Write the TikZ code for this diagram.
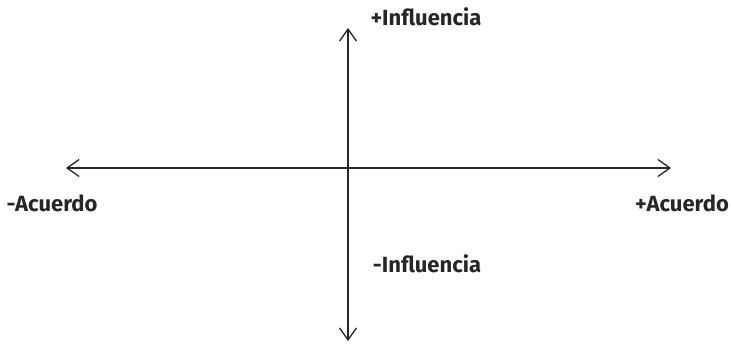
\documentclass[tikz,border=0pt]{standalone}
\usepackage{fontspec}
\setmainfont{Fira Sans}
\usetikzlibrary{arrows.meta}
\begin{document}
\begin{tikzpicture}[x=1pt,y=-1pt,
  lbl/.style={font=\fontsize{22}{24}\selectfont\bfseries, text=black!85, inner sep=0pt},
  axis/.style={line width=1.3pt, black!85, {Straight Barb[length=12pt,width=17pt,line width=1.3pt]}-{Straight Barb[length=12pt,width=17pt,line width=1.3pt]}}]
\useasboundingbox (0,0) rectangle (731,343);
\coordinate (L) at (66,168);
\coordinate (R) at (671,168);
\coordinate (T) at (348,28);
\coordinate (B) at (348,341);
\draw[axis] (L) -- (R);
\draw[axis] (B) -- (T);
\node[lbl] (pi) at (426,17) {+Influencia};
\node[lbl] (ma) at (52,203) {-Acuerdo};
\node[lbl] (pa) at (682,203) {+Acuerdo};
\node[lbl] (mi) at (427,264) {-Influencia};
\end{tikzpicture}
\end{document}
